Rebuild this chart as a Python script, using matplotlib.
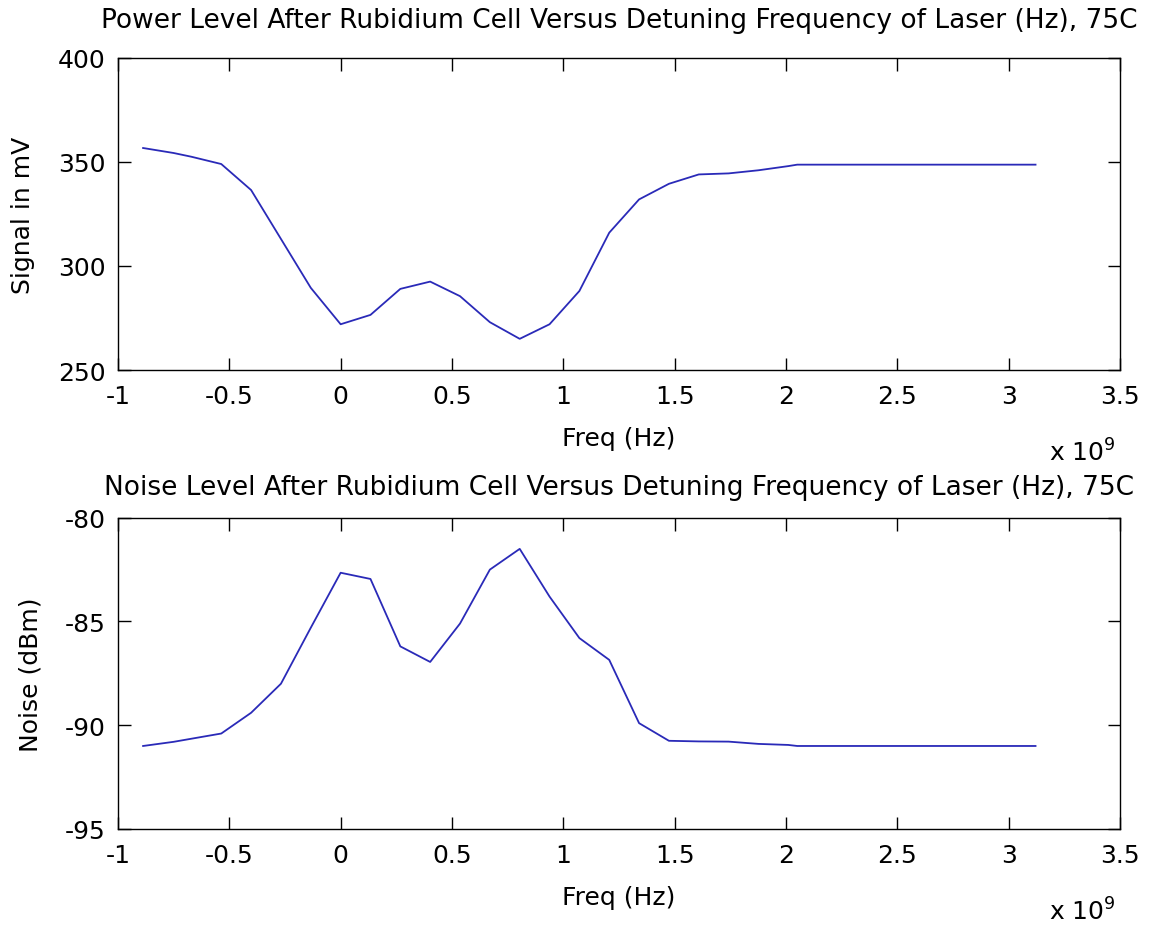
"""
Rubidium cell transmission and noise versus laser detuning, 75C.
Two stacked panels in the style of an old MATLAB figure.
"""

import matplotlib
matplotlib.use("Agg")
import matplotlib.pyplot as plt

plt.rcParams["font.family"] = ["DejaVu Sans"]
plt.rcParams["axes.unicode_minus"] = False

# detuning frequency in units of 1e9 Hz
freq = [-0.887, -0.75, -0.67, -0.536, -0.402, -0.268, -0.134, 0.0, 0.134,
        0.268, 0.402, 0.536, 0.67, 0.804, 0.938, 1.072, 1.206, 1.34, 1.474,
        1.608, 1.742, 1.876, 2.01, 2.05, 3.12]

# power level after the cell (mV)
signal_mv = [356.7, 354.3, 352.5, 349.0, 336.5, 313.0, 289.5, 272.0, 276.5,
             289.0, 292.5, 285.5, 273.0, 265.0, 272.0, 288.0, 316.0, 332.0,
             339.5, 344.0, 344.5, 346.0, 348.0, 348.7, 348.7]

# noise level after the cell (dBm)
noise_dbm = [-91.0, -90.8, -90.65, -90.4, -89.4, -88.0, -85.3, -82.65, -82.95,
             -86.2, -86.95, -85.1, -82.5, -81.5, -83.8, -85.8, -86.85, -89.9,
             -90.75, -90.78, -90.79, -90.9, -90.95, -91.0, -91.0]

x_ticks = [-1, -0.5, 0, 0.5, 1, 1.5, 2, 2.5, 3, 3.5]
x_tick_labels = ["-1", "-0.5", "0", "0.5", "1", "1.5", "2", "2.5", "3", "3.5"]

LINE_COLOR = "#2a2ab8"
TICK_SIZE = 18
LABEL_SIZE = 18
TITLE_SIZE = 19


def draw_panel(ax, values, yticks, ylabel, title, title_pad):
    ax.plot(freq, values, color=LINE_COLOR, linewidth=1.3)
    ax.set_xlim(-1, 3.5)
    ax.set_xticks(x_ticks)
    ax.set_xticklabels(x_tick_labels)
    ax.set_yticks(yticks)
    ax.set_ylim(yticks[0], yticks[-1])
    ax.tick_params(axis="x", pad=10)
    ax.tick_params(axis="y", pad=9)
    ax.tick_params(direction="in", length=9, width=1, top=True, right=True,
                   labelsize=TICK_SIZE)
    for spine in ax.spines.values():
        spine.set_linewidth(1.0)
    ax.set_xlabel("Freq (Hz)", fontsize=LABEL_SIZE, labelpad=13)
    ax.set_ylabel(ylabel, fontsize=LABEL_SIZE, labelpad=16)
    ax.set_title(title, fontsize=TITLE_SIZE, pad=title_pad)
    # exponent note under the right end of the x axis
    ax.annotate(r"x 10$^{9}$", xy=(1, 0), xycoords="axes fraction",
                xytext=(-3, -65), textcoords="offset points",
                fontsize=LABEL_SIZE, ha="right", va="baseline")


fig = plt.figure(figsize=(11.56, 9.29), dpi=100)
fig.patch.set_facecolor("white")

ax_top = fig.add_axes([0.102, 0.6006, 0.867, 0.336])
draw_panel(ax_top, signal_mv, [250, 300, 350, 400], "Signal in mV",
           "Power Level After Rubidium Cell Versus Detuning Frequency of Laser (Hz), 75C",
           title_pad=22)

ax_bot = fig.add_axes([0.102, 0.1066, 0.867, 0.335])
draw_panel(ax_bot, noise_dbm, [-95, -90, -85, -80], "Noise (dBm)",
           "Noise Level After Rubidium Cell Versus Detuning Frequency of Laser (Hz), 75C",
           title_pad=17)

fig.savefig("out.png", dpi=100)
